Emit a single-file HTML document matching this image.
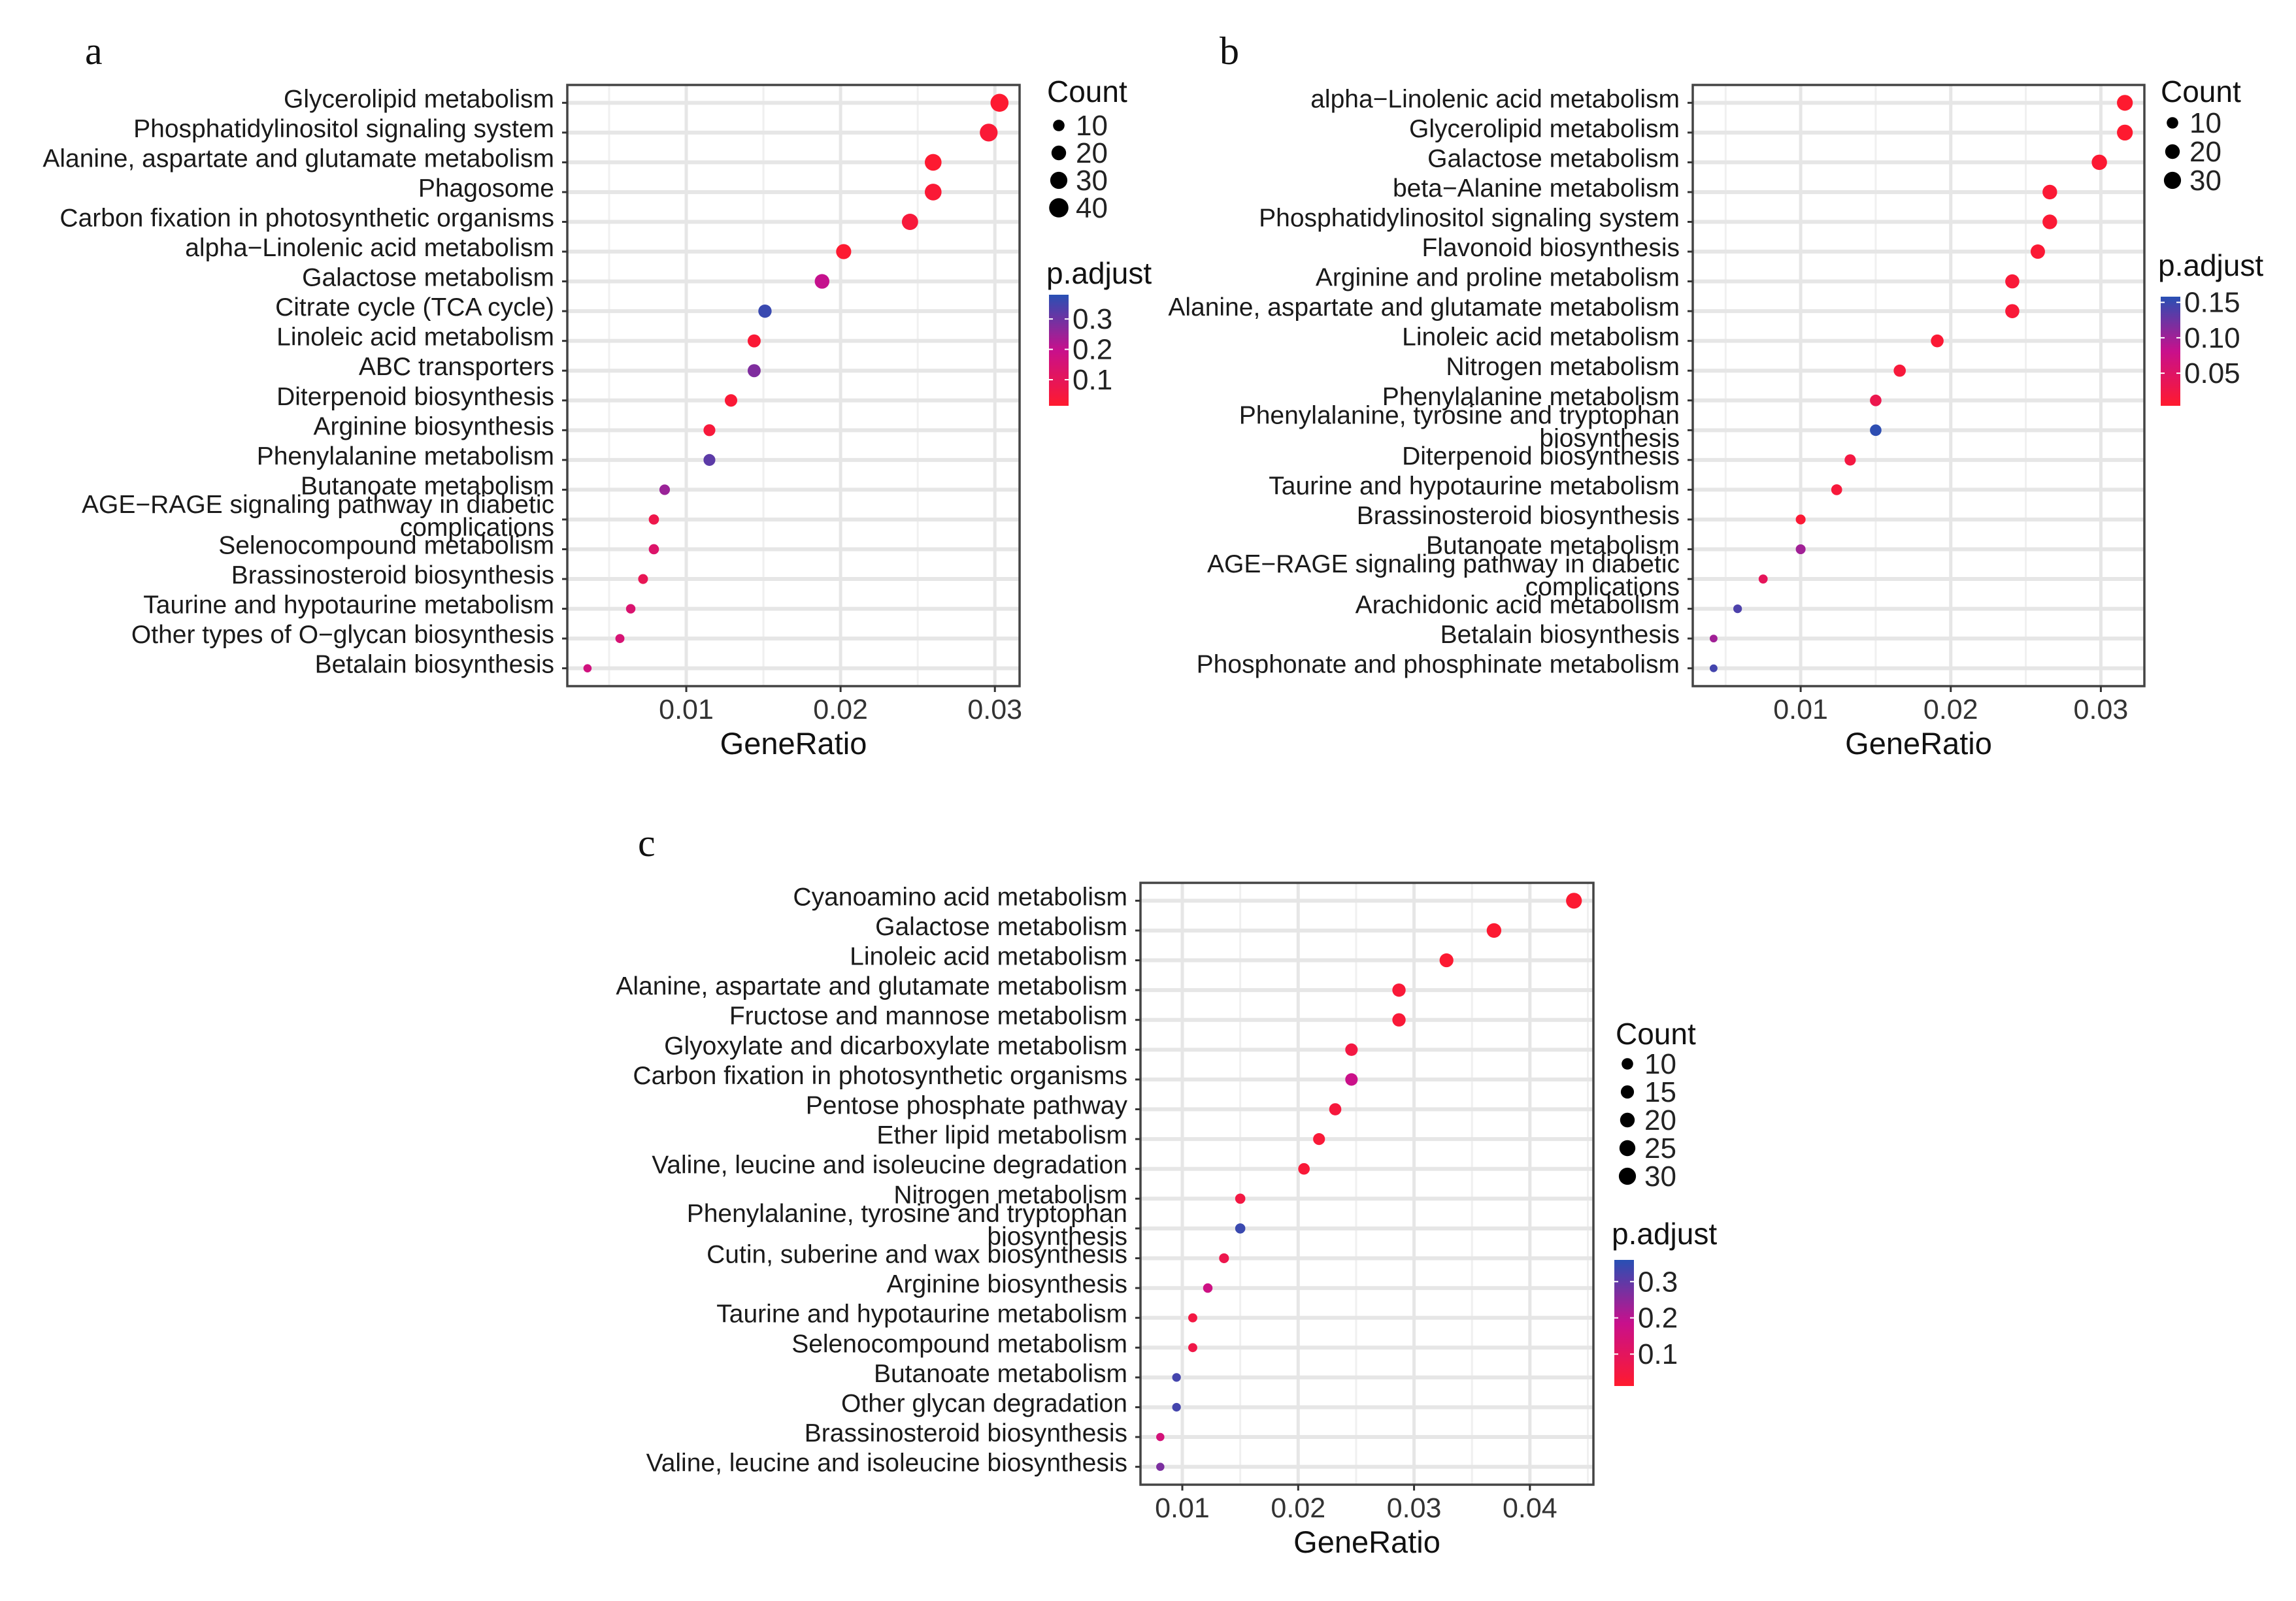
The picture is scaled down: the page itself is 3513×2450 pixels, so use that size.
<!DOCTYPE html>
<html><head><meta charset="utf-8"><style>
html,body{margin:0;padding:0;background:#fff;}
svg{display:block;font-family:"Liberation Sans",Arial,sans-serif;}
</style></head><body>
<svg id="fig" width="3513" height="2450" viewBox="0 0 3513 2450" xmlns="http://www.w3.org/2000/svg"></svg>
<script>
// ---------- Panel a data ----------
const aTerms = ["Glycerolipid metabolism","Phosphatidylinositol signaling system","Alanine, aspartate and glutamate metabolism","Phagosome","Carbon fixation in photosynthetic organisms","alpha\u2212Linolenic acid metabolism","Galactose metabolism","Citrate cycle (TCA cycle)","Linoleic acid metabolism","ABC transporters","Diterpenoid biosynthesis","Arginine biosynthesis","Phenylalanine metabolism","Butanoate metabolism","AGE\u2212RAGE signaling pathway in diabetic|complications","Selenocompound metabolism","Brassinosteroid biosynthesis","Taurine and hypotaurine metabolism","Other types of O\u2212glycan biosynthesis","Betalain biosynthesis"];
const aRatio = [0.0303,0.0296,0.0260,0.0260,0.0245,0.0202,0.0188,0.0151,0.0144,0.0144,0.0129,0.0115,0.0115,0.0086,0.0079,0.0079,0.0072,0.0064,0.0057,0.0036];
const aCount = [40,39,34,34,32,27,25,20,19,19,17,15,15,11,10,10,9,8,7,5];
const aPadj = [0.02,0.03,0.02,0.03,0.04,0.02,0.2,0.36,0.03,0.28,0.03,0.04,0.32,0.25,0.07,0.13,0.09,0.14,0.15,0.17];
const aXTicks = [0.01,0.02,0.03];
const aXTickLabels = ["0.01","0.02","0.03"];
const aSizeLegend = [10,20,30,40];
const aColorTicks = [0.3,0.2,0.1];

// ---------- Panel b data ----------
const bTerms = ["alpha\u2212Linolenic acid metabolism","Glycerolipid metabolism","Galactose metabolism","beta\u2212Alanine metabolism","Phosphatidylinositol signaling system","Flavonoid biosynthesis","Arginine and proline metabolism","Alanine, aspartate and glutamate metabolism","Linoleic acid metabolism","Nitrogen metabolism","Phenylalanine metabolism","Phenylalanine, tyrosine and tryptophan|biosynthesis","Diterpenoid biosynthesis","Taurine and hypotaurine metabolism","Brassinosteroid biosynthesis","Butanoate metabolism","AGE\u2212RAGE signaling pathway in diabetic|complications","Arachidonic acid metabolism","Betalain biosynthesis","Phosphonate and phosphinate metabolism"];
const bRatio = [0.0316,0.0316,0.0299,0.0266,0.0266,0.0258,0.0241,0.0241,0.0191,0.0166,0.0150,0.0150,0.0133,0.0124,0.0100,0.0100,0.0075,0.0058,0.0042,0.0042];
const bCount = [30,30,28,25,25,24,23,23,18,16,14,14,13,12,9,9,7,6,4,4];
const bPadj = [0.005,0.006,0.008,0.01,0.01,0.01,0.012,0.012,0.01,0.015,0.03,0.155,0.02,0.015,0.01,0.1,0.04,0.14,0.1,0.145];
const bXTicks = [0.01,0.02,0.03];
const bXTickLabels = ["0.01","0.02","0.03"];
const bSizeLegend = [10,20,30];
const bColorTicks = [0.15,0.10,0.05];

// ---------- Panel c data ----------
const cTerms = ["Cyanoamino acid metabolism","Galactose metabolism","Linoleic acid metabolism","Alanine, aspartate and glutamate metabolism","Fructose and mannose metabolism","Glyoxylate and dicarboxylate metabolism","Carbon fixation in photosynthetic organisms","Pentose phosphate pathway","Ether lipid metabolism","Valine, leucine and isoleucine degradation","Nitrogen metabolism","Phenylalanine, tyrosine and tryptophan|biosynthesis","Cutin, suberine and wax biosynthesis","Arginine biosynthesis","Taurine and hypotaurine metabolism","Selenocompound metabolism","Butanoate metabolism","Other glycan degradation","Brassinosteroid biosynthesis","Valine, leucine and isoleucine biosynthesis"];
const cRatio = [0.0438,0.0369,0.0328,0.0287,0.0287,0.0246,0.0246,0.0232,0.0218,0.0205,0.0150,0.0150,0.0136,0.0122,0.0109,0.0109,0.0095,0.0095,0.0081,0.0081];
const cCount = [30,25,22,20,20,17,17,16,15,14,10,10,9,8,7,7,6,6,5,5];
const cPadj = [0.02,0.02,0.02,0.03,0.03,0.05,0.18,0.04,0.03,0.03,0.05,0.34,0.07,0.17,0.05,0.06,0.33,0.33,0.15,0.27];
const cXTicks = [0.01,0.02,0.03,0.04];
const cXTickLabels = ["0.01","0.02","0.03","0.04"];
const cSizeLegend = [10,15,20,25,30];
const cColorTicks = [0.3,0.2,0.1];

const NS = "http://www.w3.org/2000/svg";
const svg = document.getElementById("fig");
function mk(tag, attrs, parent){
  const e = document.createElementNS(NS, tag);
  for (const k in attrs) e.setAttribute(k, attrs[k]);
  (parent||svg).appendChild(e);
  return e;
}
function lerp(a,b,t){return a+(b-a)*t;}
function colorFor(t){
  const stops=[[0,[255,26,46]],[0.5,[200,16,140]],[1,[40,80,180]]];
  t=Math.max(0,Math.min(1,t));
  let i = t<=0.5?0:1;
  const s0=stops[i], s1=stops[i+1];
  const u=(t-s0[0])/(s1[0]-s0[0]);
  const c=s0[1].map((v,j)=>Math.round(lerp(v,s1[1][j],u)));
  return "rgb("+c.join(",")+")";
}
function rad(count){ return Math.sqrt(18 + 4.3*count); }

function drawPanel(p){
  const g = mk("g",{});
  
  
  const xs = v => p.left + (v - p.xmin)/(p.xmax - p.xmin)*(p.right - p.left);
  const n = p.terms.length;
  const step = (p.bottom - p.top)/(n - 1 + 1.2);
  const ys = i => p.top + (0.6 + i)*step;
  const letter = mk("text",{x:p.letterX,y:p.letterY,"font-size":60,"font-family":"Liberation Serif, serif",fill:"#111"},g);
  letter.textContent = p.name;
  
  
  mk("rect",{x:p.left,y:p.top,width:p.right-p.left,height:p.bottom-p.top,fill:"#fff"},g);
  const tstep = p.xticks[1]-p.xticks[0];
  for (let v = p.xticks[0]-tstep/2; v < p.xmax; v += tstep){
    if (v > p.xmin) mk("line",{x1:xs(v),x2:xs(v),y1:p.top,y2:p.bottom,stroke:"#f0f0f0","stroke-width":3},g);
  }
  p.xticks.forEach(v=>{
    const l = mk("line",{x1:xs(v),x2:xs(v),y1:p.top,y2:p.bottom,stroke:"#e6e6e6","stroke-width":5},g);
    
    
  });
  for (let i=0;i<n;i++){
    const l = mk("line",{x1:p.left,x2:p.right,y1:ys(i),y2:ys(i),stroke:"#e6e6e6","stroke-width":6},g);
    
    
  }
  const border = mk("rect",{x:p.left,y:p.top,width:p.right-p.left,height:p.bottom-p.top,fill:"none",stroke:"#444","stroke-width":3.5},g);
  
  
  for (let i=0;i<n;i++){
    mk("line",{x1:p.left-8,x2:p.left,y1:ys(i),y2:ys(i),stroke:"#333","stroke-width":3},g);
    const parts = p.terms[i].split("|");
    const t = mk("text",{x:p.left-20,"text-anchor":"end","font-size":39,fill:"#1a1a1a"},g);
    
    
    if (parts.length===1){
      t.setAttribute("y", ys(i)+7);
      t.textContent = parts[0];
    } else {
      const a = mk("tspan",{x:p.left-20,y:ys(i)-10},t); a.textContent=parts[0];
      const b = mk("tspan",{x:p.left-20,y:ys(i)+25},t); b.textContent=parts[1];
    }
  }
  p.xticks.forEach((v,k)=>{
    mk("line",{x1:xs(v),x2:xs(v),y1:p.bottom,y2:p.bottom+9,stroke:"#333","stroke-width":3},g);
    const t = mk("text",{x:xs(v),y:p.bottom+50,"text-anchor":"middle","font-size":43,fill:"#333"},g);
    t.textContent = p.xlabels[k];
    
    
  });
  const xt = mk("text",{x:(p.left+p.right)/2,y:p.bottom+104,"text-anchor":"middle","font-size":47,fill:"#111"},g);
  xt.textContent = "GeneRatio";
  
  
  for (let i=0;i<n;i++){
    const c = mk("circle",{cx:xs(p.ratio[i]),cy:ys(i),r:rad(p.count[i]),fill:colorFor((p.padj[i]-p.cmin)/(p.cmax-p.cmin))},g);
    
    
  }
  const st = mk("text",{x:p.sizeX-18,y:p.sizeTitleY,"font-size":46,fill:"#111"},g);
  st.textContent = "Count";
  
  
  p.sizeLegend.forEach((cnt,k)=>{
    const cy = p.sizeY0 + k*p.sizeStep;
    const d = mk("circle",{cx:p.sizeX,cy:cy,r:rad(cnt)+1,fill:"#000"},g);
    
    
    const t = mk("text",{x:p.sizeX+26,y:cy+15,"font-size":44,fill:"#222"},g);
    t.textContent = cnt;
    
    
  });
  const ct = mk("text",{x:p.cbX-4,y:p.cbTitleY,"font-size":46,fill:"#111"},g);
  ct.textContent = "p.adjust";
  
  
  const gid = "grad-"+p.name;
  const defs = mk("defs",{},g);
  const lg = mk("linearGradient",{id:gid,x1:0,y1:1,x2:0,y2:0},defs);
  for (let k=0;k<=10;k++){ mk("stop",{offset:k/10,"stop-color":colorFor(k/10)},lg); }
  const cb = mk("rect",{x:p.cbX,y:p.cbTop,width:30,height:p.cbBottom-p.cbTop,fill:"url(#"+gid+")"},g);
  
  
  const cys = v => p.cbBottom - (v-p.cmin)/(p.cmax-p.cmin)*(p.cbBottom-p.cbTop);
  p.cticks.forEach(v=>{
    mk("line",{x1:p.cbX,x2:p.cbX+6,y1:cys(v),y2:cys(v),stroke:"#fff","stroke-width":2},g);
    mk("line",{x1:p.cbX+24,x2:p.cbX+30,y1:cys(v),y2:cys(v),stroke:"#fff","stroke-width":2},g);
    const t = mk("text",{x:p.cbX+36,y:cys(v)+15,"font-size":44,fill:"#222"},g);
    t.textContent = (p.name==="b") ? v.toFixed(2) : String(v);
    
    
  });
}

drawPanel({name:"a",terms:aTerms,ratio:aRatio,count:aCount,padj:aPadj,xticks:aXTicks,xlabels:aXTickLabels,
  left:868,right:1560,top:130,bottom:1050,xmin:0.00229,xmax:0.0316,letterX:130,letterY:98,
  sizeLegend:aSizeLegend,sizeX:1620,sizeTitleY:156,sizeY0:192,sizeStep:42,
  cticks:aColorTicks,cmin:0.014,cmax:0.38,cbX:1605,cbTop:451,cbBottom:621,cbTitleY:434});
drawPanel({name:"b",terms:bTerms,ratio:bRatio,count:bCount,padj:bPadj,xticks:bXTicks,xlabels:bXTickLabels,
  left:2590,right:3281,top:130,bottom:1050,xmin:0.00281,xmax:0.0329,letterX:1866,letterY:98,
  sizeLegend:bSizeLegend,sizeX:3324,sizeTitleY:156,sizeY0:188,sizeStep:44,
  cticks:bColorTicks,cmin:0.004,cmax:0.158,cbX:3306,cbTop:454,cbBottom:621,cbTitleY:422});
drawPanel({name:"c",terms:cTerms,ratio:cRatio,count:cCount,padj:cPadj,xticks:cXTicks,xlabels:cXTickLabels,
  left:1745,right:2438,top:1351,bottom:2272,xmin:0.00639,xmax:0.04548,letterX:976,letterY:1310,
  sizeLegend:cSizeLegend,sizeX:2490,sizeTitleY:1598,sizeY0:1628,sizeStep:43,
  cticks:cColorTicks,cmin:0.012,cmax:0.36,cbX:2470,cbTop:1928,cbBottom:2121,cbTitleY:1904});
</script>
</body></html>
